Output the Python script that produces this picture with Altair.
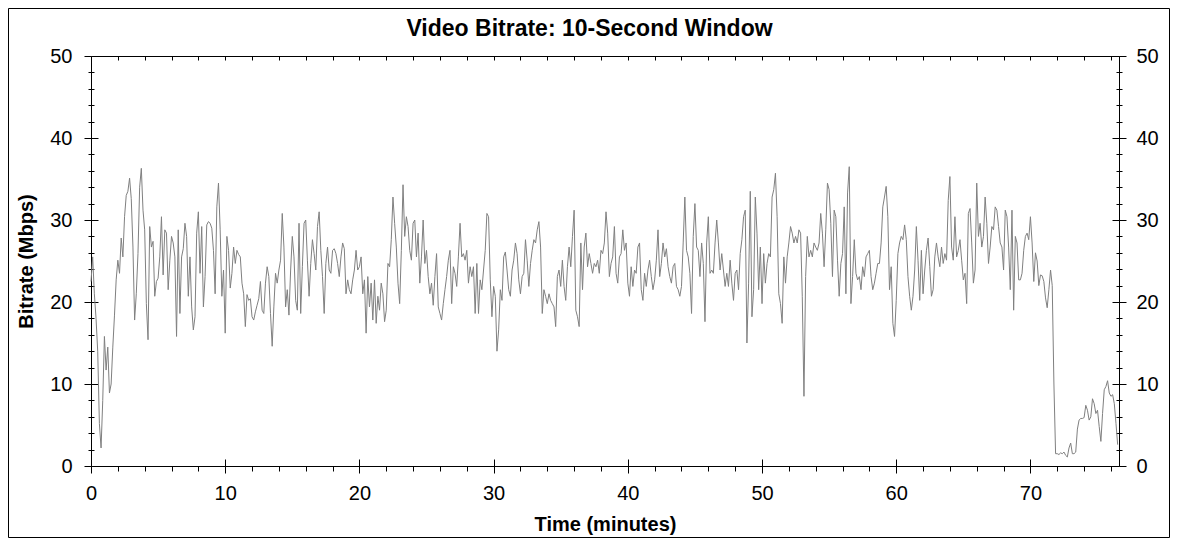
import altair as alt
import pandas as pd

# one sample every 7.5 seconds
STEP_MIN = 0.125

rate_00_10 = [
    22.5, 25.5, 21.0, 18.0, 14.0, 5.2, 2.2, 8.0, 15.8, 11.7,
    14.5, 8.9, 10.0, 14.5, 18.4, 22.7, 25.1, 23.5, 27.8, 25.5,
    30.4, 33.0, 33.5, 35.1, 32.6, 26.7, 17.8, 21.0, 25.9, 34.0,
    36.3, 31.2, 28.8, 19.8, 15.4, 29.2, 26.7, 27.4, 20.7, 22.5,
    22.9, 25.5, 30.4, 23.3, 28.8, 28.4, 21.5, 25.1, 28.0, 27.2,
    25.5, 15.8, 28.8, 18.6, 25.5, 26.5, 29.6, 28.0, 20.7, 25.5,
    19.4, 16.6, 18.2, 28.4, 31.0, 23.5, 29.2, 19.4, 23.1, 29.4,
    29.8, 29.6, 29.0, 26.3, 21.0, 31.6, 34.5, 28.8, 20.7, 23.9,
]
rate_10_20 = [
    16.2, 28.0, 26.3, 21.7, 23.5, 26.7, 24.7, 26.3, 25.8, 25.5,
    22.3, 21.0, 17.0, 20.9, 20.2, 20.4, 18.2, 17.8, 18.8, 19.6,
    20.4, 22.5, 19.0, 18.6, 22.3, 24.3, 23.1, 18.6, 14.6, 19.4,
    23.5, 22.3, 23.9, 25.1, 30.8, 26.7, 19.4, 21.5, 18.4, 23.9,
    28.0, 25.5, 20.2, 19.0, 29.6, 18.6, 24.3, 29.6, 30.0, 25.1,
    20.7, 24.7, 27.6, 25.9, 23.9, 29.2, 31.0, 26.3, 23.1, 18.6,
    24.7, 26.7, 23.9, 23.5, 26.3, 26.5, 25.9, 24.7, 23.1, 25.5,
    27.2, 26.5, 21.0, 22.7, 21.5, 21.0, 22.7, 23.9, 26.3, 23.9,
]
rate_20_30 = [
    24.3, 25.5, 21.0, 22.7, 16.2, 23.1, 19.4, 22.3, 17.8, 22.7,
    17.4, 20.7, 19.0, 22.3, 21.0, 17.6, 19.0, 24.7, 24.3, 27.6,
    32.8, 29.6, 26.7, 22.3, 19.8, 26.3, 34.3, 28.0, 30.4, 29.2,
    26.3, 25.1, 29.6, 30.0, 25.5, 28.4, 22.3, 25.5, 30.0, 24.7,
    26.3, 23.1, 21.0, 22.3, 19.6, 23.1, 25.9, 19.4, 18.6, 17.8,
    19.8, 21.5, 23.1, 25.1, 26.3, 19.8, 24.3, 23.5, 21.9, 25.5,
    29.6, 25.5, 25.9, 25.1, 26.3, 22.3, 24.3, 23.1, 24.3, 18.6,
    24.7, 18.6, 22.7, 21.5, 23.9, 26.3, 30.8, 30.4, 22.7, 18.2,
]
rate_30_40 = [
    21.9, 20.7, 14.0, 16.6, 21.5, 20.2, 25.5, 26.1, 23.9, 21.5,
    20.7, 23.9, 25.1, 27.2, 25.9, 22.7, 21.0, 23.1, 23.5, 27.6,
    25.1, 21.9, 24.7, 26.3, 27.6, 27.2, 28.8, 29.8, 26.7, 18.6,
    21.5, 20.7, 19.8, 21.0, 20.2, 19.8, 19.4, 17.0, 23.1, 23.9,
    21.9, 25.1, 21.9, 20.2, 24.3, 26.7, 24.3, 28.0, 31.2, 19.0,
    18.2, 17.0, 27.2, 21.5, 26.7, 28.4, 24.3, 25.9, 24.7, 23.5,
    24.7, 24.3, 25.1, 23.5, 26.3, 25.9, 27.2, 31.0, 28.4, 23.1,
    24.7, 25.5, 29.2, 23.5, 22.3, 25.5, 25.9, 28.8, 26.3, 27.2,
]
rate_40_50 = [
    22.3, 20.7, 24.3, 21.9, 23.9, 23.5, 26.7, 27.2, 21.5, 20.2,
    23.5, 21.9, 23.9, 25.1, 23.1, 21.5, 22.7, 25.1, 28.8, 23.1,
    24.7, 27.2, 25.5, 26.5, 24.3, 23.1, 22.3, 24.3, 24.7, 21.9,
    21.5, 20.7, 21.9, 27.2, 32.8, 26.3, 25.5, 23.5, 18.6, 28.0,
    32.0, 26.7, 26.3, 23.1, 27.2, 24.7, 17.6, 27.2, 30.4, 23.5,
    23.9, 23.5, 27.2, 30.0, 27.2, 23.9, 25.9, 23.9, 21.9, 23.5,
    21.9, 25.1, 22.3, 20.2, 23.5, 23.9, 21.5, 25.9, 27.6, 30.4,
    31.2, 15.0, 22.3, 33.5, 18.2, 21.5, 32.8, 28.4, 21.5, 26.7,
]
rate_50_60 = [
    19.8, 25.9, 22.3, 24.7, 25.9, 25.5, 32.8, 33.7, 35.7, 30.4,
    21.0, 19.8, 17.4, 25.5, 22.3, 25.5, 27.2, 29.2, 28.4, 27.2,
    28.0, 27.2, 28.8, 28.4, 20.7, 8.5, 23.1, 28.0, 25.5, 26.3,
    25.5, 27.2, 26.7, 26.3, 27.2, 30.8, 28.4, 24.3, 28.8, 34.5,
    33.7, 29.6, 23.1, 31.2, 30.4, 25.1, 20.7, 24.7, 25.9, 31.6,
    21.0, 33.3, 36.5, 19.8, 23.1, 27.6, 23.5, 22.7, 23.1, 21.5,
    24.3, 23.1, 25.5, 25.9, 26.3, 23.1, 21.5, 22.3, 23.5, 24.7,
    24.7, 27.2, 31.6, 32.8, 34.1, 30.4, 21.5, 24.3, 17.4, 15.8,
]
rate_60_70 = [
    20.2, 25.9, 27.2, 28.0, 27.6, 29.4, 27.6, 23.1, 20.7, 19.0,
    20.7, 23.9, 29.2, 25.1, 20.2, 26.3, 21.0, 23.9, 26.3, 27.8,
    24.3, 20.7, 21.5, 25.5, 27.2, 25.5, 24.3, 26.7, 24.7, 25.9,
    25.1, 32.4, 35.3, 26.7, 25.1, 30.4, 25.5, 26.3, 27.6, 25.1,
    22.7, 23.5, 19.8, 30.8, 31.4, 27.2, 22.3, 23.9, 34.5, 28.0,
    29.6, 26.7, 28.0, 32.8, 29.6, 24.7, 26.7, 29.2, 28.8, 31.6,
    31.2, 29.2, 27.2, 26.7, 23.9, 31.2, 30.4, 26.7, 21.5, 31.2,
    19.0, 28.0, 27.2, 22.7, 22.7, 23.5, 26.3, 28.0, 28.4, 27.6,
]
rate_70_end = [
    30.4, 27.2, 22.5, 26.0, 25.0, 22.0, 23.3, 23.2, 22.5, 20.5,
    19.3, 21.5, 23.9, 22.0, 10.0, 1.5, 1.5, 1.4, 1.6, 1.5,
    1.7, 1.3, 1.1, 2.2, 2.8, 1.5, 1.5, 1.7, 4.5, 5.6,
    5.8, 5.8, 5.9, 7.4, 6.8, 5.6, 6.0, 8.2, 7.6, 6.4,
    6.8, 4.8, 3.0, 6.4, 9.3, 9.7, 10.4, 8.9, 8.5, 8.7,
    7.6, 5.2, 2.6,
]

X_MAJOR = [0, 10, 20, 30, 40, 50, 60, 70]
X_MINOR = [2, 4, 6, 8, 12, 14, 16, 18, 22, 24, 26, 28, 32, 34, 36, 38,
           42, 44, 46, 48, 52, 54, 56, 58, 62, 64, 66, 68, 72, 74, 76]
Y_MAJOR = [0, 10, 20, 30, 40, 50]
Y_MINOR = [2, 4, 6, 8, 12, 14, 16, 18, 22, 24, 26, 28, 32, 34, 36, 38,
           42, 44, 46, 48]
TITLE = "Video Bitrate: 10-Second Window"

bitrate = (rate_00_10 + rate_10_20 + rate_20_30 + rate_30_40
           + rate_40_50 + rate_50_60 + rate_60_70 + rate_70_end)
df = pd.DataFrame({
    "minutes": [i * STEP_MIN for i in range(len(bitrate))],
    "bitrate": bitrate,
})

FONT = "Liberation Sans"
W, H = 1028, 410

x_scale = alt.Scale(domain=[0, 76.6], nice=False, zero=False)
y_scale = alt.Scale(domain=[0, 50], nice=False, zero=False)


def tick_axis(orient, values, size, offset=0):
    # tick-only axis; a negative offset pulls it inside the plot
    return alt.Axis(orient=orient, values=values, tickSize=size, offset=offset,
                    labels=False, domain=False, title=None)


def line_layer(x_axis, y_axis, visible=False):
    return (
        alt.Chart(df)
        .mark_line(color="#808080", strokeWidth=1, opacity=1 if visible else 0)
        .encode(
            x=alt.X("minutes:Q", scale=x_scale, axis=x_axis),
            y=alt.Y("bitrate:Q", scale=y_scale, axis=y_axis),
        )
    )


x_main = alt.Axis(orient="bottom", values=X_MAJOR, tickSize=7, labelPadding=10,
                  domain=True, title="Time (minutes)", titleX=W / 2, titleY=58,
                  titleBaseline="middle")
y_left = alt.Axis(orient="left", values=Y_MAJOR, tickSize=7, labelPadding=12,
                  domain=True, title="Bitrate (Mbps)", titleX=-65, titleY=H / 2,
                  titleBaseline="middle")
y_right = alt.Axis(orient="right", values=Y_MAJOR, tickSize=7, labelPadding=10,
                   domain=True, title=None)
x_top_line = alt.Axis(orient="top", ticks=False, labels=False, domain=True, title=None)

layers = [
    line_layer(x_main, y_left, visible=True),
    line_layer(tick_axis("bottom", X_MINOR, 5), tick_axis("left", Y_MINOR, 3)),
    line_layer(tick_axis("bottom", X_MAJOR[1:], 7, -7), tick_axis("left", Y_MAJOR, 7, -7)),
    line_layer(tick_axis("top", X_MINOR + X_MAJOR[1:], 4, -4), tick_axis("left", Y_MINOR, 3, -3)),
    line_layer(x_top_line, y_right),
    line_layer(None, tick_axis("right", Y_MINOR, 3)),
    line_layer(None, tick_axis("right", Y_MAJOR, 7, -7)),
    line_layer(None, tick_axis("right", Y_MINOR, 3, -3)),
]

one_row = pd.DataFrame({"f": [0]})

# thin frame around the whole picture
frame = (
    alt.Chart(one_row)
    .mark_rect(fillOpacity=0, stroke="black", strokeWidth=1)
    .encode(x=alt.value(-82.5), x2=alt.value(W + 50.5),
            y=alt.value(-47.5), y2=alt.value(H + 71.5))
)

# chart title, centred on the whole picture
title = (
    alt.Chart(one_row)
    .mark_text(font=FONT, fontSize=23, fontWeight="bold", color="black",
               align="center", baseline="alphabetic")
    .encode(x=alt.value(W / 2 - 15.5), y=alt.value(-20), text=alt.value(TITLE))
)

chart = (
    alt.layer(*layers, frame, title)
    .resolve_axis(x="independent", y="independent")
    .properties(
        width=W,
        height=H,
        autosize=alt.AutoSizeParams(type="none"),
        padding={"left": 83, "top": 48, "right": 51, "bottom": 72},
    )
    .configure_view(stroke=None)
    .configure_axis(
        grid=False,
        domainColor="black",
        domainWidth=1,
        tickColor="black",
        tickWidth=1,
        labelColor="black",
        labelFont=FONT,
        labelFontSize=20,
        labelFlush=False,
        labelOverlap=False,
        titleColor="black",
        titleFont=FONT,
        titleFontSize=20,
        titleFontWeight="bold",
    )
)

chart.save("out.html", embed_options={"renderer": "svg", "actions": False})
